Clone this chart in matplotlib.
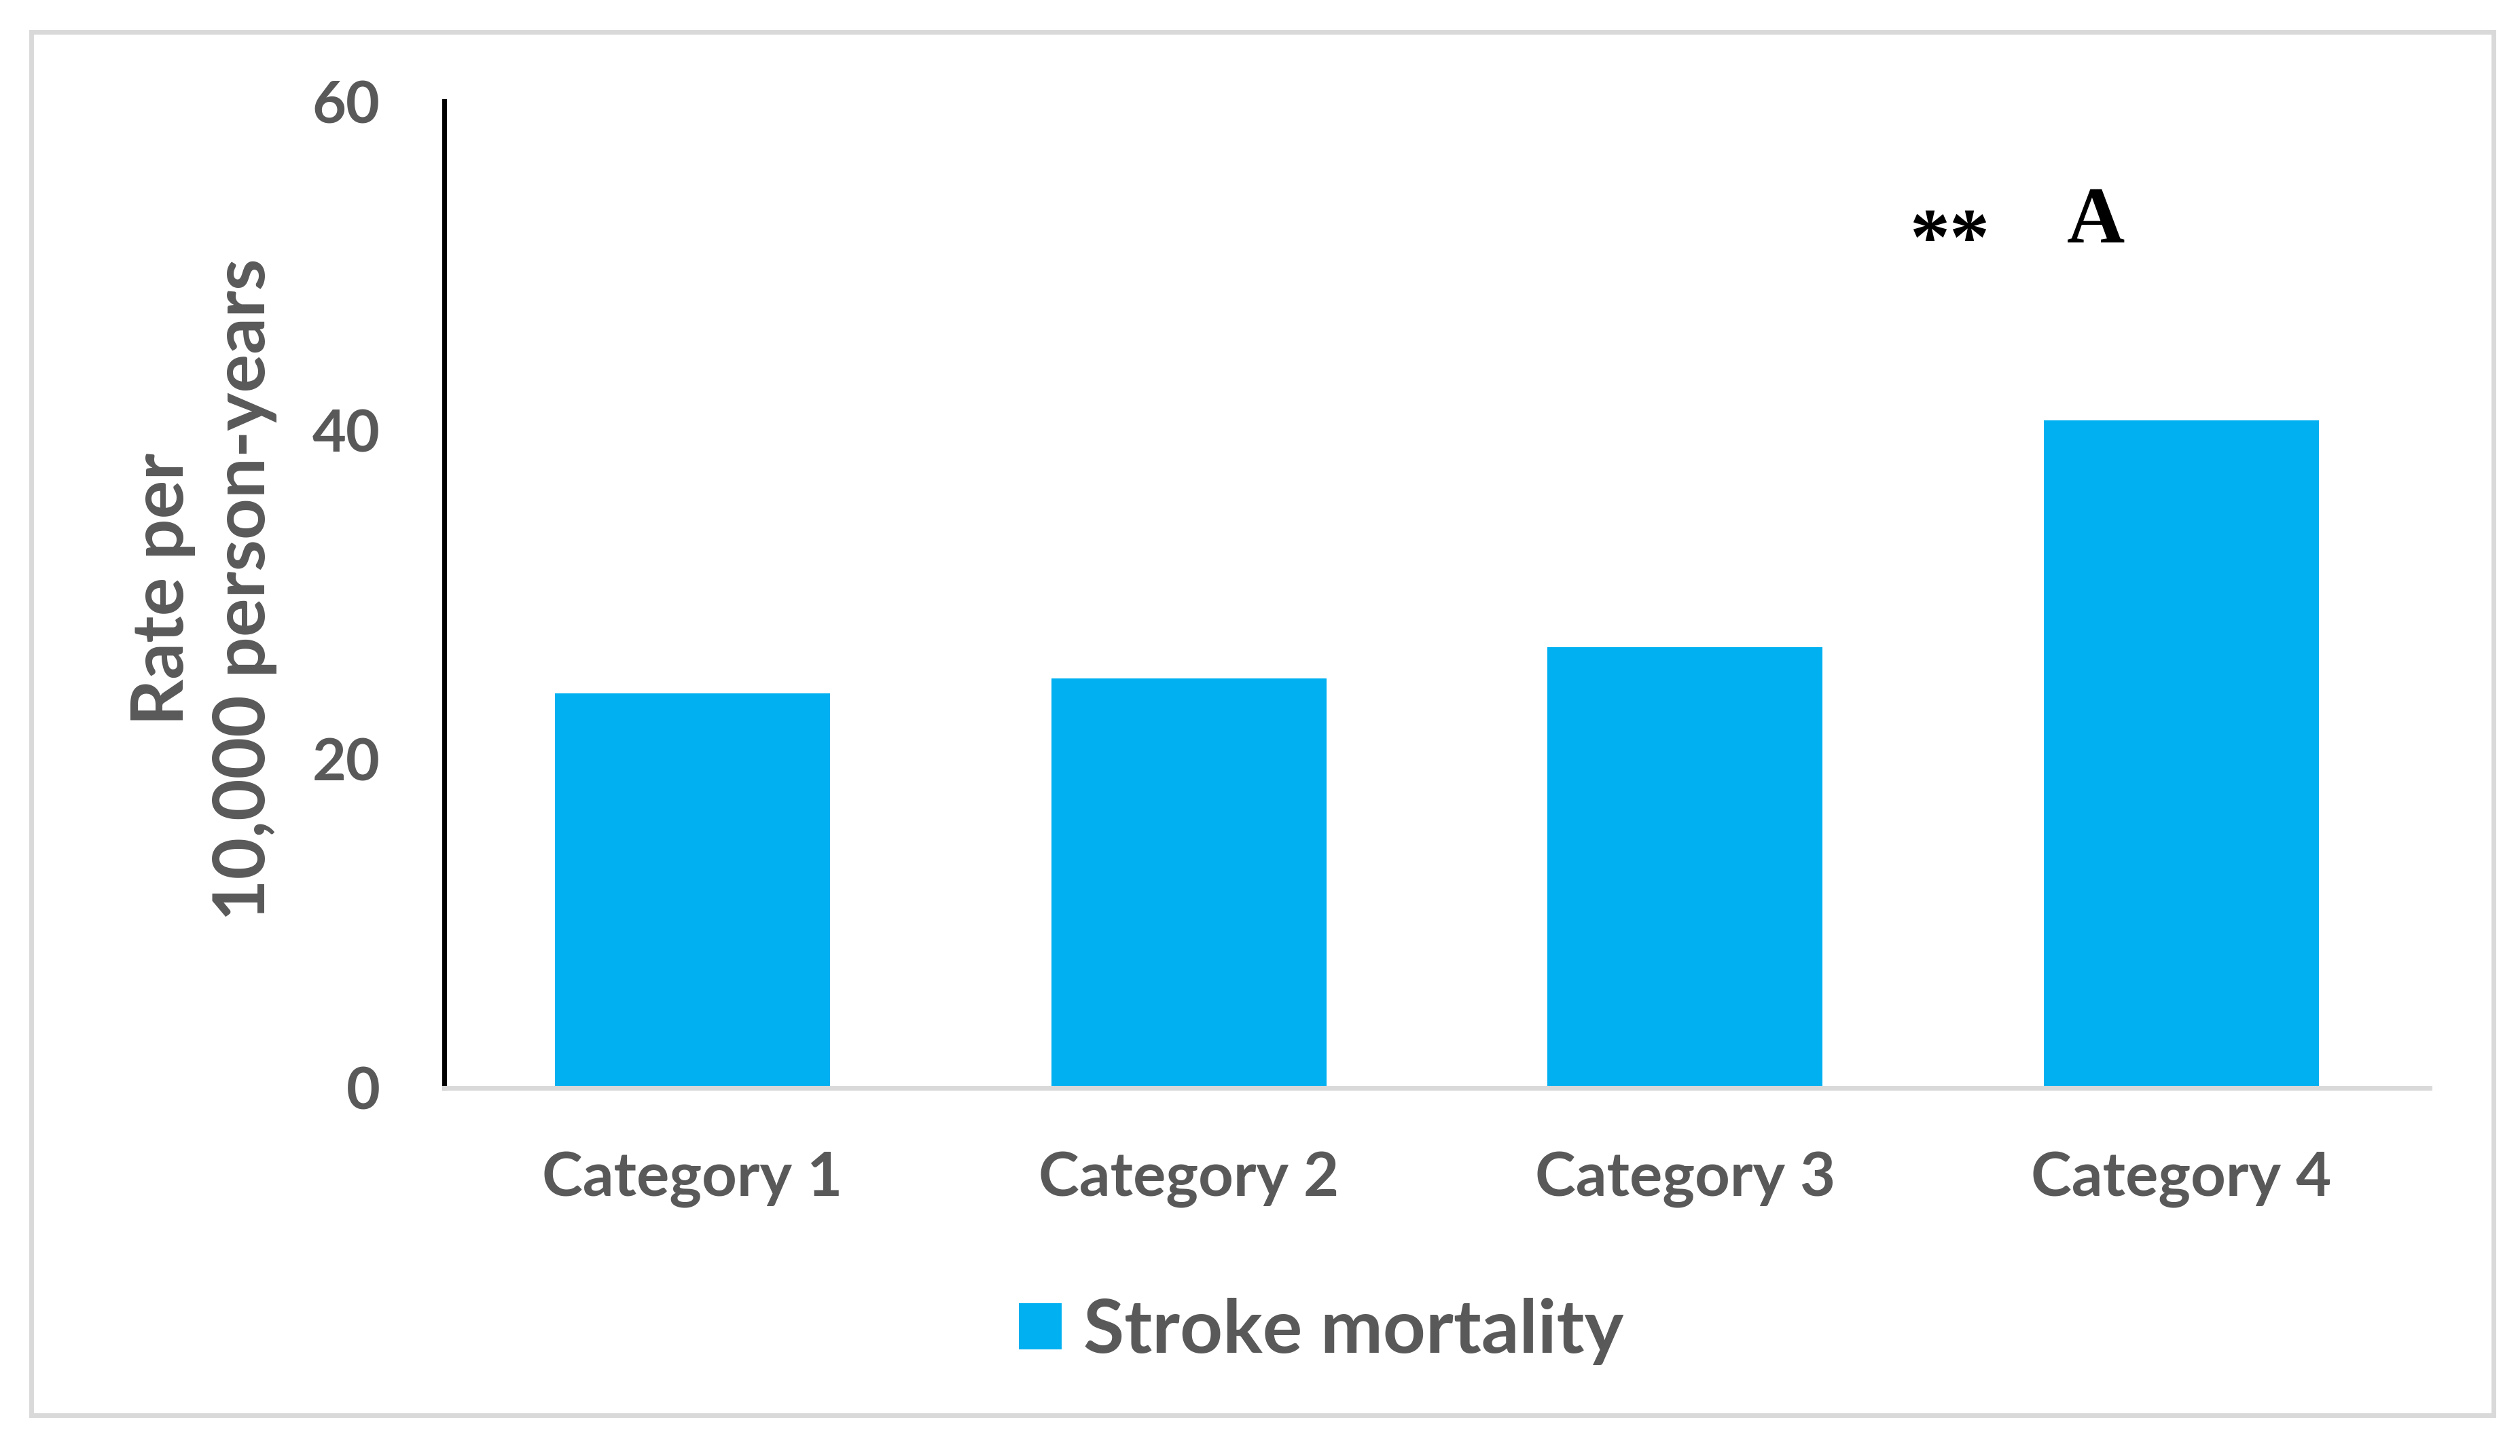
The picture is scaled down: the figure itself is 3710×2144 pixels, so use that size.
import matplotlib
matplotlib.use("Agg")
import matplotlib.pyplot as plt
from matplotlib.patches import Rectangle, Patch

categories = ["Category 1", "Category 2", "Category 3", "Category 4"]
stroke_mortality = [24.0, 24.9, 26.8, 40.6]
y_ticks = [0, 20, 40, 60]
series_name = "Stroke mortality"

W, H = 3710, 2144
grey_txt = "#595959"
bar_col = "#00B0F0"
line_grey = "#D9D9D9"
sans = "Lato"


def fx(px):
    return px / W


def fy(py):
    return 1 - py / H


fig = plt.figure(figsize=(W / 100, H / 100), dpi=100)
fig.patch.set_facecolor("white")

# outer chart-area border
fig.add_artist(Rectangle((fx(46), fy(2084)), fx(3671) - fx(46), fy(47) - fy(2084),
                         transform=fig.transFigure, fill=False,
                         edgecolor=line_grey, linewidth=5))

ax = fig.add_axes([fx(654), fy(1602), fx(3577) - fx(654), fy(149) - fy(1602)])
ax.bar(range(len(categories)), stroke_mortality, width=0.554, color=bar_col, zorder=2)
ax.set_xlim(-0.5, len(categories) - 0.5)
ax.set_ylim(0, 60)

for s in ["top", "right"]:
    ax.spines[s].set_visible(False)
ax.spines["left"].set_color("black")
ax.spines["left"].set_linewidth(5)
ax.spines["bottom"].set_color(line_grey)
ax.spines["bottom"].set_linewidth(5)
ax.spines["bottom"].set_zorder(3)

ax.set_yticks(y_ticks)
ax.set_yticklabels([str(v) for v in y_ticks], fontfamily=sans, fontweight="bold",
                   fontsize=62, color=grey_txt)
ax.set_xticks(range(len(categories)))
ax.set_xticklabels(categories, fontfamily=sans, fontweight="bold", fontsize=65,
                   color=grey_txt)
ax.tick_params(axis="both", length=0)
ax.tick_params(axis="y", pad=68)
ax.tick_params(axis="x", pad=68)

fig.text(fx(300), fy(868), "Rate per\n10,000 person-years", rotation=90,
         ha="center", va="center", multialignment="center", fontfamily=sans,
         fontweight="bold", fontsize=76.5, color=grey_txt, linespacing=1.32)

# significance marks above Category 4
fig.text(fx(2870), fy(389), "**", ha="center", va="baseline",
         fontfamily="Liberation Serif", fontweight="bold", fontsize=85, color="black")
fig.text(fx(3085), fy(357), "A", ha="center", va="baseline",
         fontfamily="Liberation Serif", fontweight="bold", fontsize=85, color="black")

handle = Patch(facecolor=bar_col, edgecolor="none")
fig.legend([handle], [series_name], loc="center", bbox_to_anchor=(fx(1945), fy(1960)),
           frameon=False, prop={"family": sans, "weight": "bold", "size": 79},
           labelcolor=grey_txt, handlelength=0.58, handleheight=0.58,
           handletextpad=0.29, borderpad=0)

fig.savefig("out.png", dpi=100, facecolor="white")
